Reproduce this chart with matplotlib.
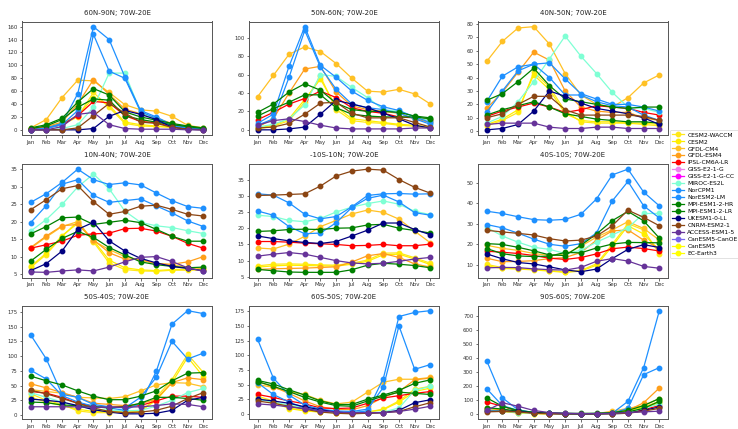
import numpy as np
import matplotlib.pyplot as plt
from matplotlib.lines import Line2D

months = ['Jan', 'Feb', 'Mar', 'Apr', 'May', 'Jun', 'Jul', 'Aug', 'Sep', 'Oct', 'Nov', 'Dec']

models = ['CESM2-WACCM', 'CESM2', 'GFDL-CM4', 'GFDL-ESM4', 'IPSL-CM6A-LR', 'GISS-E2-1-G',
          'GISS-E2-1-G-CC', 'MIROC-ES2L', 'NorCPM1', 'NorESM2-LM', 'MPI-ESM1-2-HR',
          'MPI-ESM1-2-LR', 'UKESM1-0-LL', 'CNRM-ESM2-1', 'ACCESS-ESM1-5', 'CanESM5-CanOE',
          'CanESM5', 'EC-Earth3']
colors = ['#FFE81A', '#FFEE00', '#FFC125', '#FF9F1A', 'red', 'violet',
          'magenta', 'aquamarine', 'dodgerblue', 'dodgerblue', 'green',
          'green', 'navy', 'saddlebrown', 'rebeccapurple', 'mediumslateblue',
          'yellow', 'yellow']

# monthly climatology per region (models without data are left out)
r_60n_90n = {
    'CESM2-WACCM': [1, 3, 8, 20, 58, 35, 10, 6, 5, 4, 2, 1],
    'CESM2': [1, 4, 10, 22, 50, 38, 12, 8, 6, 4, 2, 1],
    'GFDL-CM4': [3, 16, 50, 77, 76, 58, 39, 31, 29, 21, 7, 3],
    'GFDL-ESM4': [2, 5, 12, 40, 78, 55, 32, 25, 18, 10, 4, 2],
    'IPSL-CM6A-LR': [1, 3, 8, 22, 44, 42, 22, 13, 11, 5, 2, 1],
    'MIROC-ES2L': [0, 0, 2, 8, 35, 88, 88, 28, 15, 5, 2, 1],
    'NorCPM1': [0, 3, 10, 56, 160, 140, 82, 30, 20, 8, 4, 2],
    'NorESM2-LM': [0, 2, 8, 30, 148, 91, 80, 28, 18, 6, 3, 1],
    'MPI-ESM1-2-HR': [3, 8, 18, 43, 64, 54, 28, 20, 15, 10, 6, 3],
    'MPI-ESM1-2-LR': [2, 6, 16, 35, 48, 46, 22, 16, 12, 8, 5, 2],
    'UKESM1-0-LL': [0, 0, 0, 0, 2, 21, 30, 24, 16, 4, 1, 0],
    'CNRM-ESM2-1': [0, 0, 0, 3, 22, 41, 26, 12, 10, 4, 1, 0],
    'ACCESS-ESM1-5': [0, 0, 5, 24, 27, 8, 2, 1, 1, 1, 0, 0],
}
r_50n_60n = {
    'CESM2-WACCM': [1, 4, 10, 30, 58, 22, 10, 8, 7, 5, 4, 2],
    'CESM2': [2, 5, 12, 33, 55, 25, 12, 10, 8, 6, 5, 3],
    'GFDL-CM4': [36, 59, 82, 90, 85, 72, 56, 42, 41, 44, 39, 28],
    'GFDL-ESM4': [3, 12, 40, 66, 69, 41, 26, 22, 20, 18, 12, 8],
    'IPSL-CM6A-LR': [11, 19, 28, 34, 42, 35, 24, 20, 18, 14, 13, 11],
    'MIROC-ES2L': [3, 6, 12, 27, 60, 58, 46, 35, 22, 20, 14, 10],
    'NorCPM1': [7, 17, 69, 112, 70, 57, 42, 32, 25, 21, 14, 8],
    'NorESM2-LM': [5, 12, 57, 108, 68, 44, 28, 24, 22, 18, 12, 6],
    'MPI-ESM1-2-HR': [19, 28, 41, 50, 43, 29, 22, 20, 20, 19, 15, 13],
    'MPI-ESM1-2-LR': [15, 23, 30, 38, 38, 24, 17, 15, 14, 14, 14, 12],
    'UKESM1-0-LL': [0, 0, 1, 3, 17, 32, 28, 24, 18, 12, 5, 2],
    'CNRM-ESM2-1': [2, 3, 7, 17, 29, 30, 18, 13, 13, 13, 8, 3],
    'ACCESS-ESM1-5': [5, 10, 12, 9, 5, 2, 1, 1, 1, 1, 2, 2],
}
r_40n_50n = {
    'CESM2-WACCM': [4, 8, 14, 44, 33, 15, 7, 6, 6, 6, 5, 4],
    'CESM2': [5, 9, 16, 42, 31, 13, 8, 7, 7, 6, 6, 5],
    'GFDL-CM4': [52, 67, 77, 78, 65, 43, 27, 20, 18, 25, 36, 42],
    'GFDL-ESM4': [17, 29, 44, 59, 53, 30, 18, 15, 14, 14, 10, 8],
    'IPSL-CM6A-LR': [11, 15, 18, 21, 18, 14, 16, 19, 18, 17, 14, 12],
    'MIROC-ES2L': [6, 11, 22, 37, 54, 71, 56, 43, 29, 18, 17, 14],
    'NorCPM1': [14, 30, 45, 50, 51, 39, 28, 24, 20, 20, 18, 15],
    'NorESM2-LM': [22, 41, 48, 50, 40, 27, 27, 22, 19, 18, 12, 8],
    'MPI-ESM1-2-HR': [23, 28, 37, 47, 34, 24, 22, 20, 18, 17, 18, 18],
    'MPI-ESM1-2-LR': [12, 16, 19, 22, 18, 13, 11, 9, 8, 7, 7, 6],
    'UKESM1-0-LL': [1, 2, 5, 15, 30, 26, 21, 17, 15, 13, 10, 5],
    'CNRM-ESM2-1': [10, 13, 20, 26, 26, 16, 12, 12, 12, 12, 11, 8],
    'ACCESS-ESM1-5': [5, 6, 6, 6, 3, 2, 2, 3, 3, 2, 2, 2],
}
r_10n_40n = {
    'CESM2-WACCM': [6.9, 10.6, 15.7, 20.1, 14.2, 8.2, 6.3, 5.9, 5.8, 6.1, 6.1, 6.2],
    'CESM2': [7.2, 11.0, 16.0, 19.5, 14.6, 9.0, 6.8, 6.2, 6.0, 6.3, 6.4, 6.5],
    'GFDL-CM4': [12.4, 15.6, 18.6, 20.0, 14.5, 12.0, 10.0, 9.0, 8.0, 7.6, 7.0, 6.5],
    'GFDL-ESM4': [12.6, 15.9, 18.8, 19.2, 14.8, 11.1, 9.3, 9.2, 8.0, 7.8, 8.5, 10.0],
    'IPSL-CM6A-LR': [12.4, 13.4, 14.4, 16.1, 16.5, 16.7, 18.0, 18.1, 17.3, 15.8, 13.8, 12.4],
    'MIROC-ES2L': [17.3, 20.6, 24.9, 29.9, 33.6, 29.4, 23.0, 19.8, 18.8, 18.3, 17.4, 16.6],
    'NorCPM1': [25.5, 28.0, 31.2, 35.0, 32.0, 30.6, 31.1, 30.5, 28.2, 26.0, 24.3, 23.8],
    'NorESM2-LM': [19.7, 24.6, 30.7, 32.0, 27.5, 25.5, 26.0, 26.5, 24.5, 22.5, 20.2, 18.6],
    'MPI-ESM1-2-HR': [16.5, 18.6, 21.1, 21.3, 19.2, 19.8, 20.4, 19.7, 17.8, 15.8, 14.4, 14.4],
    'MPI-ESM1-2-LR': [8.7, 12.1, 15.2, 17.2, 15.5, 12.6, 10.5, 8.5, 7.7, 7.2, 6.8, 7.0],
    'UKESM1-0-LL': [6.0, 8.0, 11.6, 17.8, 19.8, 14.5, 11.6, 9.5, 8.2, 7.2, 6.6, 6.0],
    'CNRM-ESM2-1': [23.4, 26.3, 29.4, 30.3, 25.7, 22.1, 22.9, 24.4, 24.7, 23.5, 22.1, 21.6],
    'ACCESS-ESM1-5': [5.6, 5.5, 5.9, 6.2, 5.9, 7.0, 8.5, 9.8, 10.0, 8.6, 6.8, 5.8],
}
r_10s_10n = {
    'CESM2-WACCM': [8.4, 8.9, 9.0, 8.9, 8.7, 8.6, 9.2, 10.2, 12.3, 12.4, 10.9, 9.2],
    'CESM2': [8.0, 8.4, 8.6, 8.5, 8.4, 8.3, 8.9, 9.8, 11.8, 12.0, 10.5, 8.8],
    'GFDL-CM4': [13.9, 13.6, 15.1, 17.5, 20.5, 22.4, 24.4, 25.6, 24.9, 22.8, 19.1, 15.5],
    'GFDL-ESM4': [7.3, 7.5, 7.6, 7.7, 7.9, 8.1, 9.6, 11.5, 12.2, 11.0, 9.0, 8.0],
    'IPSL-CM6A-LR': [15.9, 15.9, 15.7, 15.4, 15.2, 15.0, 14.6, 14.7, 15.0, 14.6, 14.6, 15.1],
    'MIROC-ES2L': [24.0, 23.6, 22.4, 22.0, 23.0, 25.0, 26.5, 27.6, 28.4, 27.4, 25.2, 24.2],
    'NorCPM1': [30.6, 30.2, 27.8, 24.3, 22.9, 23.6, 26.6, 30.1, 30.6, 30.7, 30.5, 30.6],
    'NorESM2-LM': [25.3, 24.0, 20.5, 18.3, 18.5, 21.7, 26.4, 29.2, 30.2, 28.1, 24.8, 24.0],
    'MPI-ESM1-2-HR': [19.0, 19.2, 19.6, 19.7, 19.6, 20.0, 20.1, 21.0, 21.2, 20.0, 19.3, 18.5],
    'MPI-ESM1-2-LR': [7.3, 6.9, 6.5, 6.4, 6.4, 6.4, 7.2, 8.6, 9.2, 8.9, 8.5, 7.8],
    'UKESM1-0-LL': [17.6, 16.8, 16.1, 15.6, 15.3, 15.9, 17.6, 19.4, 21.6, 21.6, 19.6, 18.0],
    'CNRM-ESM2-1': [30.1, 30.2, 30.4, 30.6, 33.0, 36.1, 37.6, 38.2, 37.9, 35.0, 32.6, 30.8],
    'ACCESS-ESM1-5': [11.4, 12.0, 12.5, 12.0, 11.0, 10.0, 9.3, 9.0, 9.2, 9.8, 10.5, 11.0],
}
r_40s_10s = {
    'CESM2-WACCM': [10.2, 8.6, 8.2, 7.8, 7.1, 6.5, 7.2, 10.5, 20.0, 30.0, 27.0, 15.4],
    'CESM2': [9.5, 8.2, 7.9, 7.5, 6.9, 6.3, 6.9, 9.8, 19.0, 29.0, 25.0, 17.0],
    'GFDL-CM4': [19.5, 18.0, 17.0, 15.5, 14.5, 15.0, 19.0, 23.5, 27.0, 31.0, 27.7, 22.0],
    'GFDL-ESM4': [13.2, 11.5, 11.6, 12.0, 13.0, 13.5, 16.0, 22.0, 26.5, 27.0, 22.0, 18.0],
    'IPSL-CM6A-LR': [16.6, 16.1, 15.5, 14.5, 13.2, 12.6, 13.5, 15.3, 17.8, 18.6, 17.9, 16.7],
    'MIROC-ES2L': [28.3, 24.0, 21.0, 18.5, 17.5, 15.5, 17.0, 21.0, 24.5, 28.0, 35.0, 35.0],
    'NorCPM1': [36.1, 35.0, 33.4, 32.0, 31.7, 32.1, 34.6, 42.1, 53.8, 56.6, 45.4, 38.7],
    'NorESM2-LM': [29.6, 28.0, 25.4, 22.5, 20.0, 19.0, 20.3, 25.5, 41.1, 50.6, 38.7, 32.8],
    'MPI-ESM1-2-HR': [20.3, 19.9, 18.5, 16.8, 14.8, 14.5, 19.5, 25.0, 31.5, 36.0, 31.4, 23.0],
    'MPI-ESM1-2-LR': [17.9, 15.4, 14.3, 14.0, 14.2, 16.0, 15.8, 18.2, 20.1, 20.9, 20.8, 20.7],
    'UKESM1-0-LL': [15.3, 12.9, 11.1, 10.4, 9.0, 7.5, 6.6, 7.9, 13.0, 17.5, 19.8, 18.4],
    'CNRM-ESM2-1': [26.8, 26.0, 25.3, 24.5, 22.7, 21.6, 22.0, 24.0, 29.0, 36.6, 33.1, 29.0],
    'ACCESS-ESM1-5': [8.5, 8.7, 8.6, 8.0, 7.6, 7.4, 8.7, 11.7, 13.0, 11.8, 9.2, 8.3],
}
r_50s_40s = {
    'CESM2-WACCM': [36, 25, 18, 7, 4, 4, 5, 5, 30, 60, 103, 72],
    'CESM2': [30, 22, 16, 10, 6, 5, 6, 7, 25, 55, 98, 65],
    'GFDL-CM4': [43, 40, 37, 30, 29, 28, 31, 41, 51, 55, 54, 48],
    'GFDL-ESM4': [53, 46, 38, 30, 20, 18, 16, 19, 27, 55, 63, 60],
    'IPSL-CM6A-LR': [40, 37, 30, 20, 15, 14, 14, 16, 24, 32, 32, 30],
    'MIROC-ES2L': [38, 30, 22, 15, 10, 8, 7, 8, 15, 25, 38, 45],
    'NorCPM1': [136, 95, 35, 30, 18, 14, 12, 30, 64, 125, 95, 105],
    'NorESM2-LM': [76, 61, 33, 22, 15, 12, 8, 20, 74, 154, 177, 172],
    'MPI-ESM1-2-HR': [66, 58, 51, 41, 32, 26, 26, 32, 41, 58, 71, 72],
    'MPI-ESM1-2-LR': [22, 21, 17, 16, 14, 12, 14, 20, 30, 30, 28, 25],
    'UKESM1-0-LL': [27, 25, 22, 16, 9, 5, 2, 2, 3, 8, 25, 30],
    'CNRM-ESM2-1': [42, 36, 28, 20, 12, 6, 4, 5, 8, 15, 28, 38],
    'ACCESS-ESM1-5': [14, 14, 14, 14, 13, 13, 13, 14, 16, 19, 18, 14],
}
r_60s_50s = {
    'CESM2-WACCM': [30, 22, 10, 6, 3, 2, 2, 3, 8, 22, 42, 47],
    'CESM2': [27, 20, 9, 5, 3, 2, 2, 3, 7, 20, 38, 44],
    'GFDL-CM4': [50, 45, 38, 33, 23, 17, 20, 37, 54, 59, 59, 62],
    'GFDL-ESM4': [55, 46, 35, 22, 12, 8, 7, 14, 28, 38, 58, 61],
    'IPSL-CM6A-LR': [33, 28, 22, 17, 10, 9, 10, 18, 27, 31, 35, 38],
    'MIROC-ES2L': [25, 20, 15, 10, 5, 3, 2, 2, 3, 10, 40, 47],
    'NorCPM1': [127, 61, 32, 15, 8, 5, 4, 8, 45, 150, 76, 84],
    'NorESM2-LM': [53, 33, 20, 10, 5, 3, 2, 5, 60, 166, 173, 176],
    'MPI-ESM1-2-HR': [57, 51, 41, 32, 22, 16, 16, 25, 32, 40, 52, 58],
    'MPI-ESM1-2-LR': [55, 47, 38, 28, 20, 14, 13, 22, 30, 37, 35, 33],
    'UKESM1-0-LL': [25, 22, 18, 12, 7, 3, 1, 1, 2, 6, 19, 24],
    'CNRM-ESM2-1': [22, 18, 13, 8, 3, 1, 0, 1, 2, 4, 12, 19],
    'ACCESS-ESM1-5': [17, 15, 12, 9, 5, 3, 2, 2, 2, 4, 8, 13],
}
r_90s_60s = {
    'CESM2-WACCM': [30, 20, 8, 3, 1, 1, 1, 2, 10, 30, 50, 90],
    'CESM2': [28, 18, 7, 3, 1, 1, 1, 2, 8, 25, 45, 80],
    'GFDL-CM4': [35, 25, 12, 5, 2, 1, 1, 2, 20, 40, 60, 110],
    'GFDL-ESM4': [40, 30, 15, 5, 2, 1, 1, 2, 5, 25, 80, 185],
    'IPSL-CM6A-LR': [85, 55, 20, 8, 3, 2, 2, 2, 3, 10, 30, 60],
    'MIROC-ES2L': [30, 20, 10, 5, 2, 1, 1, 1, 2, 10, 40, 70],
    'NorCPM1': [380, 115, 30, 10, 5, 3, 2, 3, 5, 90, 330, 735],
    'NorESM2-LM': [180, 60, 25, 10, 5, 3, 2, 3, 5, 40, 280, 330],
    'MPI-ESM1-2-HR': [115, 55, 25, 12, 8, 5, 4, 5, 10, 25, 60, 110],
    'MPI-ESM1-2-LR': [45, 35, 20, 10, 5, 3, 2, 3, 5, 15, 40, 90],
    'UKESM1-0-LL': [20, 20, 18, 8, 3, 2, 1, 1, 2, 5, 25, 50],
    'CNRM-ESM2-1': [15, 18, 15, 5, 2, 1, 1, 1, 2, 5, 20, 40],
    'ACCESS-ESM1-5': [25, 80, 55, 25, 10, 5, 3, 3, 5, 10, 15, 20],
}

regions = [r_60n_90n, r_50n_60n, r_40n_50n,
           r_10n_40n, r_10s_10n, r_40s_10s,
           r_50s_40s, r_60s_50s, r_90s_60s]
titles = ['60N-90N; 70W-20E', '50N-60N; 70W-20E', '40N-50N; 70W-20E',
          '10N-40N; 70W-20E', '-10S-10N; 70W-20E', '40S-10S; 70W-20E',
          '50S-40S; 70W-20E', '60S-50S; 70W-20E', '90S-60S; 70W-20E']

W, H = 738, 429
fig = plt.figure(figsize=(W / 100, H / 100), dpi=100)

col_left = [22, 249, 478]
row_top = [21.5, 164, 305.5]
ax_w, ax_h = 190, 113.5

x = np.arange(len(months))
for i, (data, title) in enumerate(zip(regions, titles)):
    r, c = divmod(i, 3)
    ax = fig.add_axes([col_left[c] / W, 1 - (row_top[r] + ax_h) / H, ax_w / W, ax_h / H])
    for name, col in zip(models, colors):
        if name in data:
            ax.plot(x, data[name], '-o', color=col, lw=0.9, ms=3.2, label=name)
    ax.set_title(title, fontsize=5, pad=5, color='#222222')
    ax.set_xticks(x)
    ax.set_xticklabels(months)
    ax.tick_params(labelsize=3.9, length=1.8, width=0.5, pad=1.5, colors='#333333')
    for s in ax.spines.values():
        s.set_linewidth(0.7)
        s.set_color('#555555')

handles = [Line2D([], [], color=col, marker='o', lw=0.9, ms=3.2) for col in colors]
leg = fig.legend(handles, models, loc='upper left', bbox_to_anchor=(667 / W, 1 - 127 / H),
                 fontsize=4.3, labelspacing=0.3, handlelength=2.0, handletextpad=0.5,
                 borderpad=0.4, frameon=True, fancybox=True)
leg.get_frame().set_linewidth(0.5)

fig.savefig('out.png', dpi=100)
